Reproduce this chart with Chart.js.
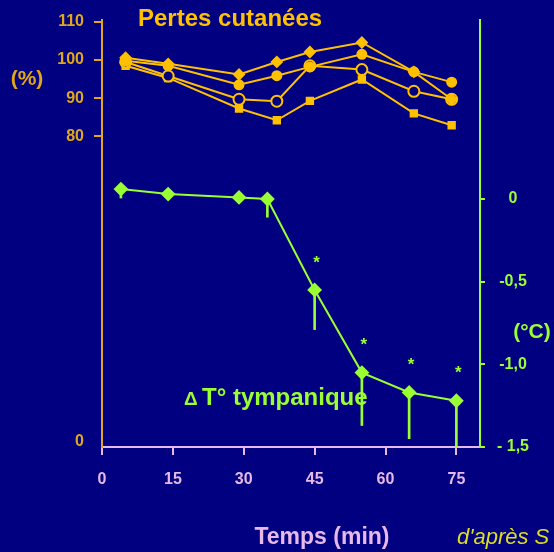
<!DOCTYPE html>
<html>
<head>
<meta charset="utf-8">
<script src="https://cdn.jsdelivr.net/npm/chart.js@4/dist/chart.umd.min.js"></script>
<style>
  html, body { margin: 0; padding: 0; background: #000080; }
  #wrap { width: 554px; height: 552px; position: relative; }
</style>
</head>
<body>
<div id="wrap"><canvas id="chart"></canvas></div>
<script>
// skin losses (%) for four subjects + tympanic delta T (°C)
const lossTimes = [5, 14, 29, 37, 44, 55, 66, 74];
const lossDiamond = [100.6, 99.0, 96.2, 99.5, 102.1, 104.6, 96.9, 89.7];
const lossDot     = [99.8, 98.5, 93.5, 95.9, 98.2, 101.5, 96.9, 94.2];
const lossCircle  = [99.5, 95.8, 89.7, 89.2, 98.5, 97.5, 91.8, 89.7];
const lossSquare  = [98.5, 95.3, 87.3, 84.2, 89.3, 94.9, 86.0, 82.9];

const tempTimes  = [4, 14, 29, 35, 45, 55, 65, 75];
const tempDelta  = [0.06, 0.03, 0.01, 0, -0.55, -1.05, -1.17, -1.22];
const tempErr    = [0.06, 0, 0, 0.11, 0.24, 0.32, 0.28, 0.28];
const tempSignif = [false, false, false, false, true, true, true, true];

const timeTicks = [0, 15, 30, 45, 60, 75];
const pctTicks = [0, 80, 90, 100, 110];
const tempTicks = [0, -0.5, -1, -1.5];
const tempTickLabels = ['0', '-0,5', '-1,0', '- 1,5'];

const ORANGE = '#FFC000';
const ORANGE_AX = '#E0A818';
const GREEN = '#99FF33';
const LAVENDER = '#E8B8E8';
const FONT = "'Liberation Sans', Arial, sans-serif";

function pts(xs, ys) { return xs.map((x, i) => ({ x, y: ys[i] })); }

function lossSet(label, data, style, fill, radius) {
  return {
    label, data: pts(lossTimes, data), yAxisID: 'y',
    borderColor: ORANGE, borderWidth: 2, tension: 0,
    pointStyle: style, pointRadius: radius,
    pointBackgroundColor: fill, pointBorderColor: ORANGE, pointBorderWidth: 2,
    order: 1
  };
}

// fixed box sizes, no extra label padding around the plot
function fixBox(w, h) {
  return s => {
    if (w) s.width = w;
    if (h) s.height = h;
    s.paddingTop = 0; s.paddingBottom = 0;
  };
}

const errBars = tempTimes
  .map((t, i) => ({ x: t, y: [tempDelta[i] - tempErr[i], tempDelta[i]] }))
  .filter((d, i) => tempErr[i] > 0);

// stars + free text
const annotations = {
  id: 'annotations',
  afterDraw(chart) {
    const ctx = chart.ctx;
    ctx.save();
    const meta = chart.getDatasetMeta(4);
    ctx.fillStyle = GREEN;
    ctx.font = 'bold 17px ' + FONT;
    ctx.textAlign = 'center';
    ctx.textBaseline = 'middle';
    meta.data.forEach((p, i) => {
      if (tempSignif[i]) ctx.fillText('*', p.x + 2, p.y - 27);
    });

    ctx.textBaseline = 'alphabetic';
    ctx.textAlign = 'left';
    ctx.fillStyle = ORANGE;
    ctx.font = 'bold 24px ' + FONT;
    ctx.fillText('Pertes cutanées', 138, 26);

    ctx.textAlign = 'center';
    ctx.textBaseline = 'middle';
    ctx.fillStyle = ORANGE_AX;
    ctx.font = 'bold 21px ' + FONT;
    ctx.fillText('(%)', 27, 79);
    ctx.fillStyle = GREEN;
    ctx.fillText('(°C)', 532, 332);

    ctx.textAlign = 'left';
    ctx.textBaseline = 'alphabetic';
    ctx.font = 'bold 19px ' + FONT;
    ctx.fillText('\u0394', 184, 405);
    ctx.font = 'bold 24px ' + FONT;
    ctx.fillText('T° tympanique', 202, 405);

    ctx.textAlign = 'center';
    ctx.fillStyle = LAVENDER;
    ctx.font = 'bold 23px ' + FONT;
    ctx.fillText('Temps (min)', 322, 544);

    ctx.textAlign = 'left';
    ctx.fillStyle = '#DDDD22';
    ctx.font = 'italic 22px ' + FONT;
    ctx.fillText("d'après S", 457, 544);
    ctx.restore();
  }
};

new Chart(document.getElementById('chart'), {
  type: 'line',
  data: {
    datasets: [
      lossSet('diamond', lossDiamond, 'rectRot', ORANGE, 5),
      lossSet('dot', lossDot, 'circle', ORANGE, 4.5),
      lossSet('circle', lossCircle, 'circle', '#000080', 5.5),
      lossSet('square', lossSquare, 'rect', ORANGE, 4.5),
      {
        label: 'dT', data: pts(tempTimes, tempDelta), yAxisID: 'yT',
        borderColor: GREEN, borderWidth: 2, tension: 0,
        pointStyle: 'rectRot', pointRadius: 6,
        pointBackgroundColor: GREEN, pointBorderColor: GREEN,
        order: 1
      },
      {
        type: 'bar', label: 'sd', data: errBars, yAxisID: 'yT',
        backgroundColor: GREEN, barThickness: 2, order: 2
      }
    ]
  },
  options: {
    responsive: true,
    maintainAspectRatio: false,
    animation: false,
    devicePixelRatio: 1,
    layout: { padding: { top: 20, left: 0, right: 0, bottom: 0 } },
    plugins: { legend: { display: false }, tooltip: { enabled: false } },
    scales: {
      x: {
        type: 'linear', position: 'bottom', min: 0, max: 80, offset: false,
        afterBuildTicks: s => { s.ticks = timeTicks.map(v => ({ value: v })); },
        afterFit: fixBox(0, 105),
        ticks: { color: LAVENDER, font: { family: FONT, size: 16, weight: 'bold' }, padding: 15, maxRotation: 0 },
        grid: { offset: false, drawOnChartArea: false, drawTicks: true, tickLength: 8, color: LAVENDER, lineWidth: 2 },
        border: { color: LAVENDER, width: 2 }
      },
      y: {
        position: 'left', min: -1.5, max: 110.5,
        afterBuildTicks: s => { s.ticks = pctTicks.map(v => ({ value: v })); },
        afterFit: fixBox(102, 0),
        ticks: { color: ORANGE_AX, font: { family: FONT, size: 16, weight: 'bold' }, padding: 10 },
        grid: {
          drawOnChartArea: false, tickLength: 8, lineWidth: 2,
          color: c => (c.tick && c.tick.value === 0) ? 'rgba(0,0,0,0)' : ORANGE_AX
        },
        border: { color: ORANGE_AX, width: 2 }
      },
      yT: {
        position: 'right', min: -1.5, max: 1.083,
        afterBuildTicks: s => { s.ticks = tempTicks.map(v => ({ value: v })); },
        afterFit: fixBox(74, 0),
        ticks: {
          color: GREEN, font: { family: FONT, size: 16, weight: 'bold' },
          crossAlign: 'center', padding: 12,
          callback: v => tempTickLabels[tempTicks.indexOf(v)]
        },
        grid: { drawOnChartArea: false, tickLength: 5, color: GREEN, lineWidth: 2 },
        border: { color: GREEN, width: 2 }
      }
    }
  },
  plugins: [annotations]
});
</script>
</body>
</html>
